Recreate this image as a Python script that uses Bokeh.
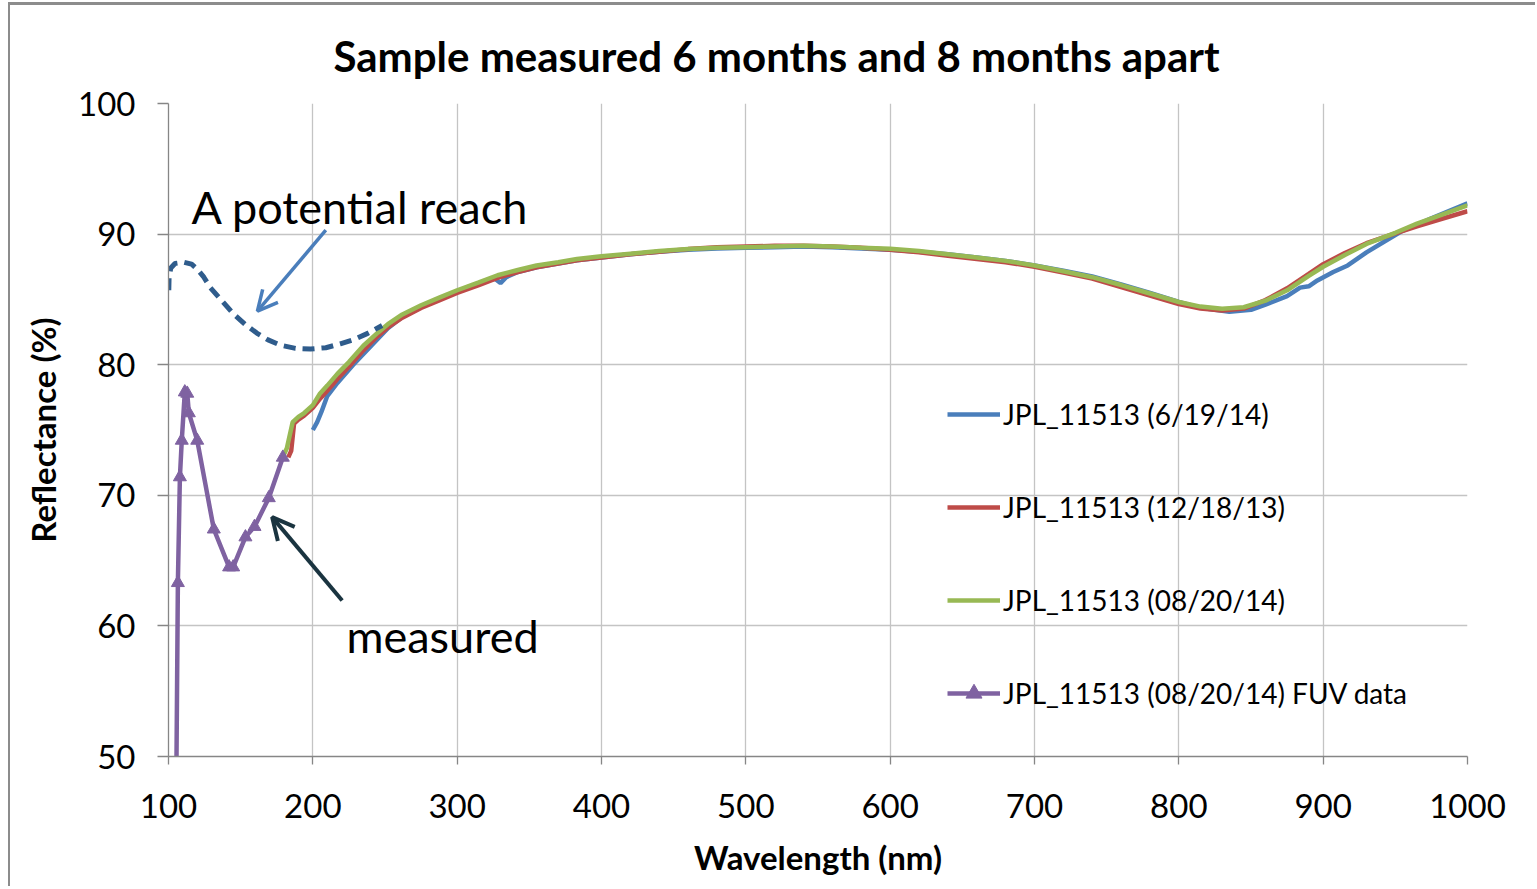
from bokeh.plotting import figure
from bokeh.models import Range1d, Legend, LegendItem, Label, Arrow, OpenHead, FixedTicker
from bokeh.embed import file_html
from bokeh.resources import INLINE

# ---------------- data ----------------
title_text = "Sample measured 6 months and 8 months apart"
x_ticks = [100, 200, 300, 400, 500, 600, 700, 800, 900, 1000]
y_ticks = [50, 60, 70, 80, 90, 100]

labels = ["JPL_11513 (6/19/14)", "JPL_11513 (12/18/13)",
          "JPL_11513 (08/20/14)", "JPL_11513 (08/20/14) FUV data"]

blue_wl = [200, 203, 206, 210, 217, 228, 240, 252, 262, 275, 288, 300, 315, 326, 330, 334, 342, 355, 370, 383,
           400, 420, 440, 460, 480, 500, 520, 540, 560, 580, 600, 620, 640, 660, 680, 700, 720, 740, 760, 780,
           800, 815, 835, 850, 860, 875, 884, 890, 896, 907, 917, 930, 954, 975, 1000]
blue_r = [75.0, 75.6, 76.4, 77.6, 78.6, 80.0, 81.4, 82.8, 83.65, 84.4, 85.05, 85.6, 86.2, 86.6, 86.25, 86.7, 87.1,
          87.45, 87.75, 88.0, 88.2, 88.45, 88.65, 88.8, 88.9, 88.95, 89.0, 89.05, 89.0, 88.9, 88.8, 88.65, 88.45,
          88.2, 87.95, 87.6, 87.2, 86.75, 86.15, 85.5, 84.8, 84.35, 84.05, 84.2, 84.6, 85.25, 85.9, 86.0, 86.45,
          87.1, 87.6, 88.6, 90.2, 91.2, 92.35]

red_wl = [183, 185, 187, 190, 194, 200, 205, 210, 217, 225, 235, 245, 252, 262, 275, 288, 300, 315, 328, 342,
          355, 370, 383, 400, 420, 440, 460, 480, 500, 520, 540, 560, 580, 600, 620, 640, 660, 680, 700, 720,
          740, 760, 780, 800, 815, 830, 845, 860, 875, 890, 900, 915, 930, 950, 965, 980, 1000]
red_r = [72.9, 73.4, 75.5, 75.8, 76.1, 76.7, 77.4, 78.0, 78.9, 79.85, 81.1, 82.2, 82.85, 83.6, 84.35, 84.95, 85.5,
         86.1, 86.65, 87.1, 87.45, 87.75, 88.0, 88.2, 88.45, 88.65, 88.85, 89.0, 89.05, 89.1, 89.1, 89.05, 88.95,
         88.8, 88.6, 88.35, 88.1, 87.85, 87.5, 87.05, 86.6, 85.95, 85.3, 84.65, 84.3, 84.15, 84.3, 84.95, 85.85,
         86.95, 87.7, 88.55, 89.3, 90.05, 90.6, 91.1, 91.75]

green_wl = [179, 182, 186, 190, 194, 200, 205, 210, 217, 225, 235, 245, 252, 262, 275, 288, 300, 315, 328, 342,
            355, 370, 383, 400, 420, 440, 460, 480, 500, 520, 540, 560, 580, 600, 620, 640, 660, 680, 700, 720,
            740, 760, 780, 800, 815, 830, 845, 860, 875, 890, 900, 915, 930, 950, 965, 980, 1000]
green_r = [72.9, 73.6, 75.6, 76.0, 76.3, 76.9, 77.8, 78.4, 79.3, 80.2, 81.45, 82.45, 83.1, 83.85, 84.55, 85.15,
           85.7, 86.3, 86.85, 87.25, 87.6, 87.85, 88.1, 88.3, 88.5, 88.7, 88.85, 88.95, 89.0, 89.05, 89.1, 89.05,
           88.95, 88.87, 88.7, 88.45, 88.2, 87.95, 87.6, 87.15, 86.7, 86.1, 85.45, 84.8, 84.45, 84.28, 84.4, 84.9,
           85.7, 86.8, 87.5, 88.4, 89.25, 90.1, 90.8, 91.4, 92.2]

fuv_wl = [105.2, 106.5, 107.9, 109.2, 111.3, 113.0, 114.1, 119.9, 131.4, 142.0, 144.8, 153.3, 159.6, 169.5, 179.2]
fuv_r = [45.0, 63.3, 71.4, 74.2, 77.9, 77.8, 76.3, 74.2, 67.4, 64.5, 64.5, 66.8, 67.6, 69.8, 72.9]

reach_wl = [100.2, 100.4, 101.6, 104.5, 110.6, 116, 120, 124.5, 129, 137, 145, 153, 161.4, 169, 177.6, 188,
            198.4, 209, 219, 229, 238, 248]
reach_r = [85.7, 86.7, 87.4, 87.75, 87.85, 87.7, 87.3, 86.7, 85.9, 84.9, 83.9, 83.1, 82.4, 81.9, 81.5, 81.25,
           81.2, 81.3, 81.6, 81.95, 82.4, 83.0]

note_reach = "A potential reach"
note_reach_pos = (115.9, 92.1)
arrow_reach = (209.0, 90.3, 161.6, 84.1)
note_meas = "measured"
note_meas_pos = (223.3, 59.2)
arrow_meas = (220.3, 61.95, 171.8, 68.33)

# ---------------- styling ----------------
C_BLUE, C_RED, C_GREEN, C_PURPLE = "#4A7EBB", "#BE4B48", "#98B954", "#7F62A1"
C_DASH, C_ARROW1, C_ARROW2 = "#2F5C8C", "#4A7EBB", "#1A3440"
FONT = "Lato"

p = figure(width=1527, height=884, output_backend="svg", toolbar_location=None,
           x_range=Range1d(100, 1000), y_range=Range1d(50, 100),
           min_border_left=158, min_border_right=70, min_border_top=98, min_border_bottom=133,
           background_fill_color="white", border_fill_color="white")
p.outline_line_color = None

p.title.text = title_text
p.title.text_font = FONT
p.title.text_font_style = "bold"
p.title.text_font_size = "42px"
p.title.align = "left"
p.title.offset = 165
p.title.standoff = 45
p.title.text_color = "black"

for ax in (p.xaxis[0], p.yaxis[0]):
    ax.axis_line_color = "#868686"
    ax.axis_line_width = 1.3
    ax.major_tick_line_color = "#868686"
    ax.major_tick_line_width = 1.3
    ax.major_tick_in = 0
    ax.minor_tick_line_color = None
    ax.major_label_text_font = FONT
    ax.major_label_text_font_size = "33px"
    ax.major_label_text_color = "black"
    ax.axis_label_text_font = FONT
    ax.axis_label_text_font_style = "bold"
    ax.axis_label_text_font_size = "33px"
    ax.axis_label_text_color = "black"

p.xaxis.ticker = FixedTicker(ticks=x_ticks)
p.yaxis.ticker = FixedTicker(ticks=y_ticks)
p.xaxis.major_tick_out = 8
p.yaxis.major_tick_out = 11
p.xaxis.major_label_standoff = 29
p.yaxis.major_label_standoff = 22
p.xaxis.axis_label = "Wavelength (nm)"
p.yaxis.axis_label = "Reflectance (%)"
p.xaxis.axis_label_standoff = 16
p.yaxis.axis_label_standoff = 12

p.xgrid.ticker = FixedTicker(ticks=x_ticks)
p.ygrid.ticker = FixedTicker(ticks=y_ticks)
for g in (p.xgrid[0], p.ygrid[0]):
    g.grid_line_color = "#C4C4C4"
    g.grid_line_width = 1.3

rb = p.line(blue_wl, blue_r, line_color=C_BLUE, line_width=4.5)
rr = p.line(red_wl, red_r, line_color=C_RED, line_width=4.5)
rg = p.line(green_wl, green_r, line_color=C_GREEN, line_width=4.5)
rp = p.line(fuv_wl, fuv_r, line_color=C_PURPLE, line_width=4.5)
rpm = p.scatter(fuv_wl, fuv_r, marker="triangle", size=13, fill_color=C_PURPLE, line_color=C_PURPLE)

p.line(reach_wl, reach_r, line_color=C_DASH, line_width=5, line_dash="12 7")

legend = Legend(items=[LegendItem(label=labels[0], renderers=[rb]),
                       LegendItem(label=labels[1], renderers=[rr]),
                       LegendItem(label=labels[2], renderers=[rg]),
                       LegendItem(label=labels[3], renderers=[rp, rpm])],
                location=(779, 43), orientation="vertical",
                border_line_color=None, background_fill_alpha=0,
                padding=0, margin=0, spacing=53, glyph_width=53, glyph_height=40,
                label_height=40, label_standoff=3,
                label_text_font=FONT, label_text_font_size="28px", label_text_color="black")
p.add_layout(legend)

p.add_layout(Label(x=note_reach_pos[0], y=note_reach_pos[1], text=note_reach, text_font=FONT,
                   text_font_size="45px", text_baseline="alphabetic", text_color="black"))
p.add_layout(Label(x=note_meas_pos[0], y=note_meas_pos[1], text=note_meas, text_font=FONT,
                   text_font_size="45px", text_baseline="alphabetic", text_color="black"))

p.add_layout(Arrow(x_start=arrow_reach[0], y_start=arrow_reach[1], x_end=arrow_reach[2], y_end=arrow_reach[3],
                   line_color=C_ARROW1, line_width=3.5,
                   end=OpenHead(size=20, line_color=C_ARROW1, line_width=3.5)))
p.add_layout(Arrow(x_start=arrow_meas[0], y_start=arrow_meas[1], x_end=arrow_meas[2], y_end=arrow_meas[3],
                   line_color=C_ARROW2, line_width=4,
                   end=OpenHead(size=22, line_color=C_ARROW2, line_width=4)))

p.styles = {"border-left": "2px solid #8C8C8C", "border-top": "3px solid #8C8C8C",
            "margin-left": "8px", "margin-top": "2px"}

open("out.html", "w").write(file_html(p, INLINE))
